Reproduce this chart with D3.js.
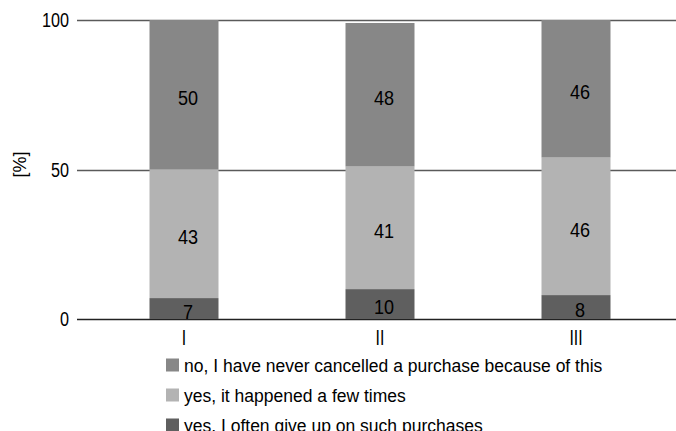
<!DOCTYPE html>
<html>
<head>
<meta charset="utf-8">
<script src="https://cdn.jsdelivr.net/npm/d3@7"></script>
<style>
  body { margin: 0; background: #fff; }
  svg { display: block; }
  text { font-family: "Liberation Sans", Arial, sans-serif; fill: #000; }
</style>
</head>
<body>
<svg id="chart" width="676" height="431"></svg>
<script>
// Survey groups on the x axis
const categories = ["I", "II", "III"];
// Answer series, stacked bottom to top
const seriesNames = [
  "yes, I often give up on such purchases",
  "yes, it happened a few times",
  "no, I have never cancelled a purchase because of this"
];
const often = [7, 10, 8];
const fewTimes = [43, 41, 46];
const never = [50, 48, 46];
const yTicks = [0, 50, 100];

const seriesValues = [often, fewTimes, never];
const colors = ["#5f5f5f", "#b3b3b3", "#878787"];

const svg = d3.select("#chart");
const W = 676, H = 431;

const x = d3.scaleBand().domain(categories).range([86, 674])
  .paddingInner(0.648).paddingOuter(0.324);
const y = d3.scaleLinear().domain([0, 100]).range([319, 20]);

// Table rows for the stack layout
const rows = categories.map((c, i) => {
  const r = { cat: c };
  seriesNames.forEach((s, k) => r[s] = seriesValues[k][i]);
  return r;
});
const stacked = d3.stack().keys(seriesNames)(rows);

// Condensed text: position, then squeeze horizontally
const squeeze = (px, py, sx) => `translate(${px},${py}) scale(${sx},1)`;

// Horizontal grid lines
svg.append("g").selectAll("line").data(yTicks).join("line")
  .attr("x1", 77).attr("x2", W)
  .attr("y1", d => Math.round(y(d)) + 0.5).attr("y2", d => Math.round(y(d)) + 0.5)
  .attr("stroke", d => d === 0 ? "#222" : "#5a5a5a")
  .attr("stroke-width", 1.3);

// Y tick labels
svg.append("g").selectAll("text").data(yTicks).join("text")
  .attr("transform", d => squeeze(69, y(d), 0.81))
  .attr("dy", "0.35em")
  .attr("text-anchor", "end")
  .style("font-size", "20px")
  .text(d => d);

// Y axis title
svg.append("text")
  .attr("transform", `translate(20,${y(50) - 5}) rotate(-90)`)
  .attr("text-anchor", "middle")
  .attr("dy", "0.35em")
  .style("font-size", "18px")
  .text("[%]");

// Stacked bars
const layers = svg.append("g").selectAll("g").data(stacked).join("g")
  .attr("fill", (d, k) => colors[k]);
layers.selectAll("rect").data(d => d).join("rect")
  .attr("x", d => x(d.data.cat))
  .attr("width", x.bandwidth())
  .attr("y", d => y(d[1]))
  .attr("height", d => y(d[0]) - y(d[1]));

// Value labels in each segment
const labels = svg.append("g");
stacked.forEach(layer => {
  labels.selectAll(null).data(layer).join("text")
    .attr("transform", d => squeeze(x(d.data.cat) + x.bandwidth() / 2 + 4,
                                     (y(d[0]) + y(d[1])) / 2 + 3, 0.86))
    .attr("dy", "0.35em")
    .attr("text-anchor", "middle")
    .style("font-size", "21px")
    .text(d => d[1] - d[0]);
});

// Category labels below the axis
svg.append("g").selectAll("text").data(categories).join("text")
  .attr("transform", d => squeeze(x(d) + x.bandwidth() / 2, 337, 0.72))
  .attr("dy", "0.35em")
  .attr("text-anchor", "middle")
  .style("font-size", "22px")
  .text(d => d);

// Legend, listed top of stack first
const legendOrder = [2, 1, 0];
const legend = svg.append("g").selectAll("g").data(legendOrder).join("g")
  .attr("transform", (k, i) => `translate(166,${365 + i * 30})`);
legend.append("rect")
  .attr("x", 0).attr("y", -6.5).attr("width", 13).attr("height", 13)
  .attr("fill", k => colors[k]);
legend.append("text")
  .attr("x", 18).attr("y", 1).attr("dy", "0.35em")
  .style("font-size", "17.5px")
  .text(k => seriesNames[k]);
</script>
</body>
</html>
